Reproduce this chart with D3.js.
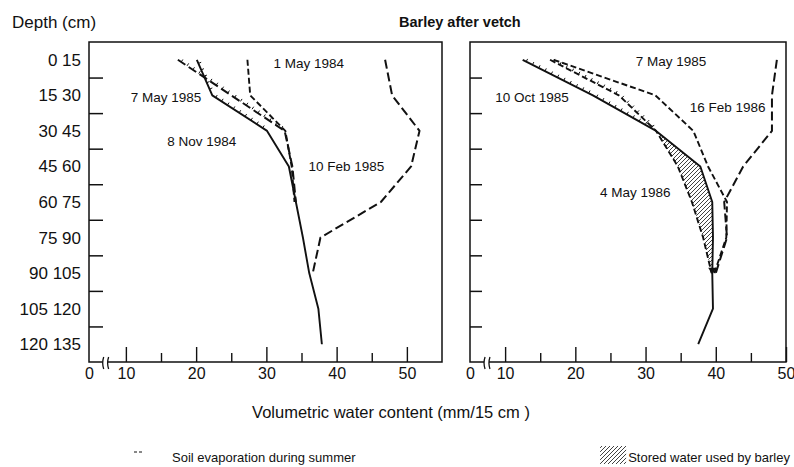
<!DOCTYPE html>
<html>
<head>
<meta charset="utf-8">
<script src="https://cdn.jsdelivr.net/npm/d3@7"></script>
<style>
  body { margin: 0; background: #fff; }
  svg text { font-family: "Liberation Sans", Arial, Helvetica, sans-serif; fill: #111; }
</style>
</head>
<body>
<div id="chart"></div>
<script>
// depth bands (cm), one label per 15 cm layer
const depthStarts = [0, 15, 30, 45, 60, 75, 90, 105, 120];
const depthLabels = ['0 15', '15 30', '30 45', '45 60', '60 75', '75 90', '90 105', '105 120', '120 135'];

// x ticks (volumetric water content, mm/15 cm)
const majorTicks = [10, 20, 30, 40, 50];
const minorTicks = [15, 25, 35, 45];

// left panel, values per layer from the top
const leftMay84 = [27.3, 27.7, 32.7, 33.6, 34.0];
const leftMay85 = [17.4, 25.0, 32.6, 33.7, 34.2];
const leftNov84 = [20.1, 22.3, 30.1, 33.2, 34.2, 35.2, 36.1, 37.4, 37.9];
const leftFeb85 = [46.9, 47.9, 51.8, 50.6, 46.3, 37.7, 36.6];

// right panel
const rightMay85 = [16.9, 31.4, 36.8, 38.9, 41.6, 41.5, 39.8];
const rightOct85 = [12.5, 22.5, 31.5, 37.8, 39.5, 39.6, 39.5, 39.6, 37.5];
const rightMay86 = [16.4, 26.2, 31.5, 34.6, 36.6, 38.2, 39.4];
const rightFeb86 = [48.7, 48.0, 48.0, 43.9, 41.2, 41.6, 40.0];

const width = 794;
const height = 467;
const plotTop = 42;
const plotBottom = 362;

const svg = d3
  .select('#chart')
  .append('svg')
  .attr('width', width)
  .attr('height', height);

const defs = svg.append('defs');
const hatch = defs
  .append('pattern')
  .attr('id', 'hatch')
  .attr('patternUnits', 'userSpaceOnUse')
  .attr('width', 4)
  .attr('height', 4);
hatch.append('path').attr('d', 'M-1,5 L5,-1 M-1,1 L1,-1 M3,5 L5,3').attr('stroke', '#111').attr('stroke-width', 0.8);

const y = d3.scaleLinear().domain([0, 135]).range([plotTop, plotBottom]);
const mid = (i) => depthStarts[i] + 7.5;

function toPoints(values) {
  return values.map((v, i) => ({ v, depth: mid(i) }));
}

const styles = {
  solid: { dash: null, w: 1.9 },
  dash: { dash: '6,3', w: 1.9 },
  longdash: { dash: '9,4', w: 2 },
};

// one panel
function panel(cfg) {
  const x = d3.scaleLinear().domain(cfg.domain).range(cfg.range);
  const g = svg.append('g');
  const [x0, x1] = cfg.range;

  // frame with a break in the bottom line
  const b0 = x(cfg.breakAt[0]);
  const b1 = x(cfg.breakAt[1]);
  g.append('path')
    .attr('d', `M${b0},${plotBottom} L${x0},${plotBottom} L${x0},${plotTop} L${x1},${plotTop} L${x1},${plotBottom} L${b1},${plotBottom}`)
    .attr('fill', 'none')
    .attr('stroke', '#111')
    .attr('stroke-width', 1.5);
  [b0, b1].forEach((bx) => {
    g.append('path')
      .attr('d', `M${bx + 1},${plotBottom - 5} Q${bx - 1},${plotBottom + 1} ${bx + 1},${plotBottom + 7}`)
      .attr('fill', 'none')
      .attr('stroke', '#111')
      .attr('stroke-width', 1.3);
  });

  // y ticks pointing inward
  g.append('g')
    .attr('transform', `translate(${x0},0)`)
    .call(d3.axisRight(y).tickValues(depthStarts.slice(1)).tickSize(cfg.yTick).tickFormat(''))
    .call((a) => a.select('.domain').remove())
    .call((a) => a.selectAll('line').attr('stroke', '#111').attr('stroke-width', 1.5));

  // x ticks pointing up
  const xa = g.append('g').attr('transform', `translate(0,${plotBottom})`);
  xa.append('g')
    .call(d3.axisBottom(x).tickValues(majorTicks).tickSize(-15).tickPadding(6).tickFormat(d3.format('d')))
    .call((a) => a.select('.domain').remove());
  xa.append('g')
    .call(d3.axisBottom(x).tickValues(minorTicks).tickSize(-9).tickFormat(''))
    .call((a) => a.select('.domain').remove());
  xa.append('g')
    .call(d3.axisBottom(x).tickValues([cfg.domain[0]]).tickSize(0).tickPadding(6).tickFormat(() => '0'))
    .call((a) => a.select('.domain').remove());
  xa.selectAll('line').attr('stroke', '#111').attr('stroke-width', 1.4);
  xa.selectAll('text').attr('font-size', 16).attr('font-family', '"Liberation Sans", Arial, sans-serif').attr('fill', '#111');

  // stored water hatch
  if (cfg.hatch) {
    const [lo, hi, from, to] = cfg.hatch;
    const rows = d3.range(from, to + 1).map((i) => ({ depth: mid(i), a: lo[i], b: hi[i] }));
    g.append('path')
      .datum(rows)
      .attr('fill', 'url(#hatch)')
      .attr('d', d3.area().y((d) => y(d.depth)).x0((d) => x(d.a)).x1((d) => x(d.b)));
  }

  const line = d3.line().x((d) => x(d.v)).y((d) => y(d.depth));
  cfg.series.forEach((s) => {
    const st = styles[s.style];
    g.append('path')
      .datum(toPoints(s.values))
      .attr('fill', 'none')
      .attr('stroke', '#111')
      .attr('stroke-width', st.w)
      .attr('stroke-dasharray', st.dash)
      .attr('stroke-linejoin', 'round')
      .attr('d', line);
  });

  // soil evaporation marks: short hairs along the upper part of the curves
  cfg.hairs.forEach(([vals, n]) => {
    const pts = toPoints(vals.slice(0, n)).map((d) => [x(d.v), y(d.depth)]);
    for (let k = 0; k < pts.length - 1; k++) {
      const [ax, ay] = pts[k];
      const [bx, by] = pts[k + 1];
      const len = Math.hypot(bx - ax, by - ay);
      const nx = (by - ay) / len;
      const ny = -(bx - ax) / len;
      for (let t = 4; t < len; t += 7) {
        const px = ax + ((bx - ax) * t) / len;
        const py = ay + ((by - ay) * t) / len;
        g.append('line')
          .attr('x1', px)
          .attr('y1', py)
          .attr('x2', px + nx * 3)
          .attr('y2', py + ny * 3)
          .attr('stroke', '#111')
          .attr('stroke-width', 1);
      }
    }
  });

  if (cfg.arrow) {
    const [vals, i] = cfg.arrow;
    g.append('path')
      .attr('d', d3.symbol(d3.symbolTriangle, 28)())
      .attr('transform', `translate(${x(vals[i])},${y(mid(i)) - 3}) rotate(180)`)
      .attr('fill', '#111');
  }

  cfg.labels.forEach((l) => {
    g.append('text')
      .attr('x', x(l.v))
      .attr('y', y(l.depth))
      .attr('font-size', 13.5)
      .text(l.text);
  });
}

panel({
  domain: [4.75, 55],
  range: [89, 442],
  breakAt: [6.7, 7.4],
  yTick: 14,
  series: [
    { values: leftMay84, style: 'dash' },
    { values: leftMay85, style: 'longdash' },
    { values: leftNov84, style: 'solid' },
    { values: leftFeb85, style: 'longdash' },
  ],
  hairs: [[leftNov84, 3], [leftMay85, 3]],
  labels: [
    { text: '1 May 1984', v: 31.0, depth: 11.0 },
    { text: '7 May 1985', v: 10.7, depth: 25.3 },
    { text: '8 Nov 1984', v: 15.9, depth: 43.9 },
    { text: '10 Feb 1985', v: 36.0, depth: 54.4 },
  ],
});

panel({
  domain: [5, 50],
  range: [470, 786],
  breakAt: [7.0, 7.7],
  yTick: 12,
  series: [
    { values: rightMay85, style: 'dash' },
    { values: rightOct85, style: 'solid' },
    { values: rightMay86, style: 'dash' },
    { values: rightFeb86, style: 'longdash' },
  ],
  hatch: [rightMay86, rightOct85, 2, 6],
  hairs: [[rightOct85, 3], [rightMay86, 3]],
  arrow: [rightOct85, 6],
  labels: [
    { text: '7 May 1985', v: 28.6, depth: 10.1 },
    { text: '10 Oct 1985', v: 8.6, depth: 25.3 },
    { text: '16 Feb 1986', v: 36.3, depth: 29.5 },
    { text: '4 May 1986', v: 23.5, depth: 65.4 },
  ],
});

// y labels at layer centres
svg.append('g')
  .attr('transform', 'translate(89,0)')
  .call(d3.axisLeft(y).tickValues(depthStarts.map((d) => d + 7.5)).tickSize(0).tickPadding(8)
    .tickFormat((d, i) => depthLabels[i]))
  .call((a) => a.select('.domain').remove())
  .call((a) => a.selectAll('text').attr('font-size', 17).attr('font-family', '"Liberation Sans", Arial, sans-serif').attr('fill', '#111'));

svg.append('text').attr('x', 12).attr('y', 28).attr('font-size', 17).text('Depth (cm)');
svg.append('text').attr('x', 399).attr('y', 27).attr('font-size', 14.5).attr('font-weight', 'bold').text('Barley after vetch');
svg.append('text').attr('x', 391).attr('y', 418).attr('font-size', 16.5).attr('text-anchor', 'middle').text('Volumetric water content (mm/15 cm )');

// legend
svg.append('path').attr('d', 'M134,452 h3 M139,452 h3').attr('stroke', '#111').attr('stroke-width', 1);
svg.append('text').attr('x', 172).attr('y', 462).attr('font-size', 13).text('Soil evaporation during summer');
const stored = svg.append('text').attr('x', 790).attr('y', 462).attr('font-size', 13).attr('text-anchor', 'end').text('Stored water used by barley');
const storedX = 790 - stored.node().getComputedTextLength();
svg.append('rect').attr('x', storedX - 28).attr('y', 446).attr('width', 26).attr('height', 18).attr('fill', 'url(#hatch)');
</script>
</body>
</html>
